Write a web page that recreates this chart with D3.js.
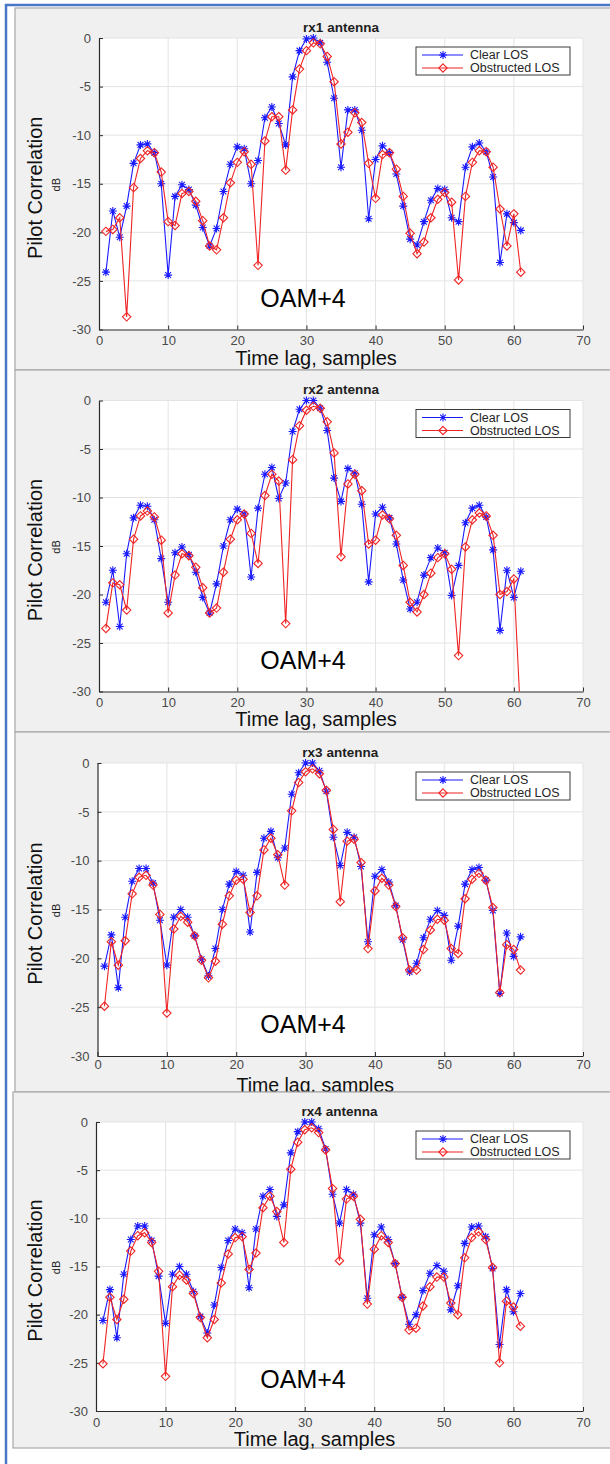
<!DOCTYPE html>
<html><head><meta charset="utf-8">
<script src="https://cdn.jsdelivr.net/npm/d3@7/dist/d3.min.js"></script>
<style>
body{margin:0;background:#fff;}
svg{display:block;font-family:"Liberation Sans",Arial,Helvetica,sans-serif;}
</style>
</head><body>
<svg id="chart" width="610" height="1464"></svg>
<script>
// ---------------- data ----------------
const lags = d3.range(1, 62);
const xTicks = [0, 10, 20, 30, 40, 50, 60, 70];
const yTicks = [0, -5, -10, -15, -20, -25, -30];
const seriesNames = ["Clear LOS", "Obstructed LOS"];
const panelTitles = ["rx1 antenna", "rx2 antenna", "rx3 antenna", "rx4 antenna"];
const annotation = "OAM+4";
const xLabel = "Time lag, samples";
const yLabel = "Pilot Correlation";
const yUnit = "dB";

const rx1Clear = [-24.1,-17.8,-20.5,-17.3,-12.9,-11.0,-10.9,-11.8,-15.0,-24.4,
  -16.3,-15.1,-15.6,-17.2,-19.5,-21.4,-19.6,-15.8,-13.0,-11.2,
  -11.4,-15.0,-12.6,-8.2,-7.1,-8.8,-11.0,-4.0,-1.3,-0.1,
  0.0,-0.5,-2.5,-6.2,-13.3,-7.4,-7.4,-9.5,-18.6,-12.5,
  -11.1,-11.8,-14.0,-17.3,-20.7,-21.3,-18.9,-16.7,-15.5,-15.6,
  -18.5,-18.9,-13.3,-11.2,-10.8,-11.7,-14.3,-23.1,-18.1,-19.0,-19.8];
const rx1Obstructed = [-19.9,-19.7,-18.5,-28.7,-15.4,-12.4,-11.6,-11.8,-13.8,-18.9,
  -19.3,-16.0,-15.8,-16.8,-18.8,-21.4,-21.8,-18.5,-14.9,-12.8,
  -11.7,-13.0,-23.4,-10.6,-8.1,-8.1,-13.6,-7.4,-3.2,-1.3,
  -0.5,-0.6,-1.9,-4.5,-10.9,-9.7,-7.7,-8.7,-12.9,-16.5,
  -12.0,-11.8,-13.5,-16.3,-20.1,-22.2,-21.0,-18.5,-16.6,-15.9,
  -16.9,-24.9,-16.3,-12.8,-11.6,-11.7,-13.3,-17.6,-21.4,-18.1,-24.1];

const rx2Clear = [-20.8,-17.5,-23.3,-15.8,-12.1,-10.8,-10.9,-12.3,-16.3,-20.8,
  -15.7,-15.1,-15.9,-17.7,-20.3,-21.9,-18.9,-15.0,-12.3,-11.2,
  -11.7,-18.2,-11.1,-7.6,-6.9,-10.1,-8.5,-3.2,-0.9,0.0,
  0.0,-0.8,-3.1,-8.0,-10.4,-7.0,-7.5,-10.7,-18.7,-11.7,
  -11.0,-12.1,-14.8,-18.5,-21.5,-20.8,-18.0,-16.2,-15.2,-15.7,
  -20.1,-17.0,-12.6,-11.1,-10.8,-12.0,-15.4,-23.7,-17.5,-20.3,-17.6];
const rx2Obstructed = [-23.5,-18.8,-19.0,-21.6,-14.3,-11.9,-11.4,-12.0,-14.4,-21.9,
  -18.0,-15.8,-16.0,-17.2,-19.3,-21.9,-21.4,-17.7,-14.3,-12.3,
  -11.7,-13.7,-16.8,-9.8,-7.6,-8.3,-23.0,-6.1,-2.6,-1.0,
  -0.6,-0.8,-2.2,-5.4,-16.1,-8.6,-7.6,-9.3,-14.8,-14.4,
  -11.8,-12.2,-13.9,-17.0,-20.8,-21.8,-20.0,-17.8,-16.2,-15.8,
  -17.4,-26.3,-15.1,-12.3,-11.6,-11.9,-13.9,-20.0,-19.7,-18.4,-33.0];

const rx3Clear = [-20.8,-17.6,-23.0,-15.8,-12.1,-10.8,-10.8,-12.3,-16.1,-20.7,
  -15.8,-15.0,-15.8,-17.7,-20.1,-21.8,-19.0,-15.0,-12.4,-11.1,
  -11.5,-17.3,-11.2,-7.7,-7.0,-9.7,-8.7,-3.2,-1.0,0.0,
  0.0,-0.8,-2.9,-7.6,-10.5,-7.1,-7.6,-10.6,-18.3,-11.6,
  -10.9,-12.2,-14.6,-18.1,-21.4,-20.5,-17.9,-16.0,-15.1,-15.6,
  -20.2,-16.7,-12.4,-10.9,-10.7,-12.0,-15.1,-23.6,-17.4,-19.8,-17.8];
const rx3Obstructed = [-24.9,-18.3,-20.7,-18.2,-13.4,-11.7,-11.5,-12.5,-15.5,-25.6,
  -17.0,-15.7,-16.3,-17.7,-20.2,-22.0,-20.3,-16.5,-13.6,-12.0,
  -11.9,-15.3,-13.6,-8.9,-7.7,-9.4,-12.5,-4.9,-2.0,-0.9,
  -0.6,-1.1,-2.8,-6.8,-14.2,-8.0,-7.8,-10.2,-19.0,-13.1,
  -11.8,-12.5,-14.7,-17.9,-21.2,-21.2,-19.1,-17.1,-16.0,-16.1,
  -19.0,-19.5,-13.9,-11.9,-11.3,-12.0,-14.8,-23.5,-18.6,-19.1,-21.2];

const rx4Clear = [-20.6,-17.4,-22.4,-15.8,-12.2,-10.8,-10.8,-12.3,-16.0,-20.9,
  -15.8,-15.0,-15.8,-17.6,-20.2,-21.9,-19.0,-15.1,-12.3,-11.1,
  -11.5,-17.2,-11.1,-7.7,-7.0,-9.8,-8.6,-3.2,-1.0,0.0,
  0.0,-0.7,-2.8,-7.5,-10.5,-7.0,-7.5,-10.5,-18.3,-11.7,
  -10.9,-12.2,-14.7,-18.2,-21.0,-20.0,-17.5,-15.7,-14.9,-15.5,
  -19.5,-17.0,-12.6,-10.9,-10.8,-11.9,-15.2,-23.1,-17.4,-19.7,-17.8];
const rx4Obstructed = [-25.1,-18.2,-20.5,-18.4,-13.4,-11.8,-11.5,-12.5,-15.5,-26.4,
  -17.1,-15.9,-16.4,-17.8,-20.3,-22.4,-20.5,-16.7,-13.7,-12.0,
  -11.9,-15.3,-13.6,-8.9,-7.7,-9.3,-12.5,-4.9,-2.1,-0.8,
  -0.6,-1.1,-2.9,-6.9,-14.4,-8.0,-7.7,-10.1,-18.9,-13.2,
  -11.8,-12.5,-14.7,-18.2,-21.6,-21.4,-19.1,-17.1,-16.1,-16.1,
  -18.8,-20.0,-14.1,-12.0,-11.4,-12.2,-15.1,-25.0,-18.6,-19.2,-21.2];

const clearSeries = [rx1Clear, rx2Clear, rx3Clear, rx4Clear];
const obstructedSeries = [rx1Obstructed, rx2Obstructed, rx3Obstructed, rx4Obstructed];

// ---------------- layout (pixel geometry of each screenshot panel) ----------------
const panels = [
  {bx:15, by:8,    bw:600, bh:362, x0:99,   x1:583, top:38,    bottom:329.5, xl:28,   xlf:20,   tdy:0.6},
  {bx:15, by:370,  bw:600, bh:362, x0:99,   x1:583, top:400.5, bottom:691.5, xl:27,   xlf:20,   tdy:0.6},
  {bx:15, by:732,  bw:600, bh:360, x0:97.5, x1:583, top:763,   bottom:1056,  xl:29,   xlf:19.5, tdy:0.4},
  {bx:13, by:1092, bw:602, bh:356, x0:96,   x1:583, top:1122,  bottom:1411,  xl:28,   xlf:20,   tdy:0.6}
];
const blue = "#1a1aff", red = "#f02424";

const svg = d3.select("#chart");

// outer blue frame
svg.append("line").attr("x1",5).attr("x2",610).attr("y1",5).attr("y2",5)
  .attr("stroke","#4a76c8").attr("stroke-width",2.5);
svg.append("line").attr("x1",6).attr("x2",6).attr("y1",4).attr("y2",1464)
  .attr("stroke","#4a76c8").attr("stroke-width",2.5);

const starPath = r => { const a = r*0.72;
  return `M${-r},0L${r},0M0,${-r}L0,${r}M${-a},${-a}L${a},${a}M${-a},${a}L${a},${-a}`; };
const diamondPath = r => `M0,${-r}L${r},0L0,${r}L${-r},0Z`;
const fmt = d => String(d);

panels.forEach((p, i) => {
  const g = svg.append("g");
  // grey figure background
  g.append("rect").attr("x",p.bx).attr("y",p.by).attr("width",p.bw).attr("height",p.bh)
    .attr("fill","#f0f0f0").attr("stroke","#a8a8a8").attr("stroke-width",1.2);

  const x = d3.scaleLinear().domain([0,70]).range([p.x0,p.x1]);
  const y = d3.scaleLinear().domain([-30,0]).range([p.bottom,p.top]);

  // white axes background
  g.append("rect").attr("x",p.x0).attr("y",p.top).attr("width",p.x1-p.x0).attr("height",p.bottom-p.top)
    .attr("fill","#fff");

  // grid
  g.append("g").selectAll("line").data(xTicks.slice(1)).join("line")
    .attr("x1",d=>x(d)).attr("x2",d=>x(d)).attr("y1",p.top).attr("y2",p.bottom)
    .attr("stroke","#e3e3e3").attr("stroke-width",1);
  g.append("g").selectAll("line").data(yTicks.slice(0,-1)).join("line")
    .attr("x1",p.x0).attr("x2",p.x1).attr("y1",d=>y(d)).attr("y2",d=>y(d))
    .attr("stroke","#e3e3e3").attr("stroke-width",1);

  // axes
  const xAxis = d3.axisBottom(x).tickValues(xTicks).tickFormat(fmt).tickSizeInner(-4).tickSizeOuter(0).tickPadding(8);
  const yAxis = d3.axisLeft(y).tickValues(yTicks).tickFormat(fmt).tickSizeInner(-4).tickSizeOuter(0).tickPadding(8);
  const gx = g.append("g").attr("transform",`translate(0,${p.bottom})`).call(xAxis);
  const gy = g.append("g").attr("transform",`translate(${p.x0},0)`).call(yAxis);
  [gx, gy].forEach(a => {
    a.select(".domain").attr("stroke","#2b2b2b").attr("stroke-width",1.2);
    a.selectAll(".tick line").attr("stroke","#2b2b2b");
    a.selectAll(".tick text").attr("fill","#4a4a4a").attr("font-size",13)
      .attr("font-family","'Liberation Sans',Arial,sans-serif");
  });
  gx.selectAll(".tick text").attr("dy",p.tdy + "em");

  // clip region for data
  const clipId = "clip" + i;
  g.append("clipPath").attr("id",clipId).append("rect")
    .attr("x",p.x0).attr("y",p.top-6).attr("width",p.x1-p.x0+6).attr("height",p.bottom-p.top+6);
  const dg = g.append("g").attr("clip-path",`url(#${clipId})`);

  const line = d3.line().x((d,k)=>x(lags[k])).y(d=>y(d));

  // Clear LOS
  dg.append("path").datum(clearSeries[i]).attr("d",line)
    .attr("fill","none").attr("stroke",blue).attr("stroke-width",1.1);
  dg.append("g").selectAll("path").data(clearSeries[i]).join("path")
    .attr("transform",(d,k)=>`translate(${x(lags[k])},${y(d)})`)
    .attr("d",starPath(4)).attr("stroke",blue).attr("stroke-width",1.1).attr("fill","none");

  // Obstructed LOS
  dg.append("path").datum(obstructedSeries[i]).attr("d",line)
    .attr("fill","none").attr("stroke",red).attr("stroke-width",1.1);
  dg.append("g").selectAll("path").data(obstructedSeries[i]).join("path")
    .attr("transform",(d,k)=>`translate(${x(lags[k])},${y(d)})`)
    .attr("d",diamondPath(4.2)).attr("stroke",red).attr("stroke-width",1.1).attr("fill","none");

  // title
  g.append("text").attr("x",(p.x0+p.x1)/2).attr("y",p.top-11).attr("dy","0.35em")
    .attr("text-anchor","middle").attr("font-weight","bold").attr("font-size",13.5)
    .attr("fill","#1e1e1e").text(panelTitles[i]);

  // x label
  g.append("text").attr("x",(p.x0+p.x1)/2 - 25).attr("y",p.bottom+p.xl).attr("dy","0.35em")
    .attr("text-anchor","middle").attr("font-size",p.xlf).attr("fill","#111").text(xLabel);

  // y labels
  const ym = (p.top+p.bottom)/2;
  g.append("text").attr("transform",`translate(35,${ym+4}) rotate(-90)`).attr("dy","0.35em")
    .attr("text-anchor","middle").attr("font-size",20).attr("fill","#111").text(yLabel);
  g.append("text").attr("transform",`translate(56,${ym+1}) rotate(-90)`).attr("dy","0.35em")
    .attr("text-anchor","middle").attr("font-size",11).attr("fill","#222").text(yUnit);

  // annotation
  g.append("text").attr("x",303).attr("y",p.bottom-23)
    .attr("text-anchor","middle").attr("font-size",25).attr("fill","#000").text(annotation);

  // legend
  const lx = 416, lw = 154, ly = p.top + 9, lh = 28;
  const lg = g.append("g");
  lg.append("rect").attr("x",lx).attr("y",ly).attr("width",lw).attr("height",lh)
    .attr("fill","#fff").attr("stroke","#3a3a3a").attr("stroke-width",1);
  const items = [{name:seriesNames[0], c:blue, m:starPath(4)}, {name:seriesNames[1], c:red, m:diamondPath(4.2)}];
  items.forEach((it, k) => {
    const cy = ly + 8 + k*13;
    lg.append("line").attr("x1",lx+6).attr("x2",lx+47).attr("y1",cy).attr("y2",cy)
      .attr("stroke",it.c).attr("stroke-width",1.1);
    lg.append("path").attr("transform",`translate(${lx+27},${cy})`).attr("d",it.m)
      .attr("stroke",it.c).attr("fill","none").attr("stroke-width",1.1);
    lg.append("text").attr("x",lx+54).attr("y",cy).attr("dy","0.35em")
      .attr("font-size",12.5).attr("fill","#262626").text(it.name);
  });
});
</script>
</body></html>
